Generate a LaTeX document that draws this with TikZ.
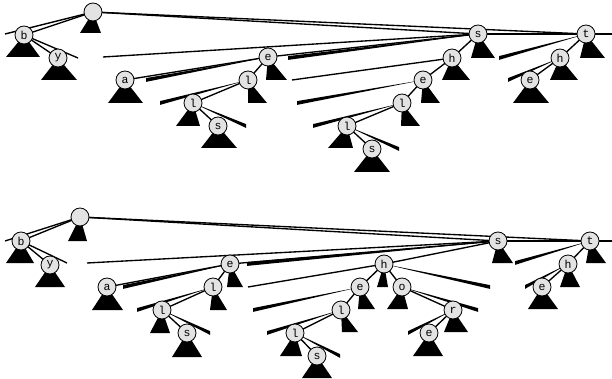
\documentclass[tikz,border=0pt]{standalone}
\usepackage{fontspec}
\setmonofont{Liberation Mono}
\pgfdeclarelayer{bg}
\pgfsetlayers{bg,main}
\newcommand\subtri[4]{\fill (#1.center) -- (#2,#4) -- (#3,#4) -- cycle;}
\newcommand\wedgeln[2]{\fill (#1.center) -- ([yshift=1.9pt]#2) -- ([yshift=-1.9pt]#2) -- cycle;}
\tikzset{
  nd/.style={circle,draw,line width=0.8pt,fill=black!11,minimum size=18pt,inner sep=0pt,
    font=\ttfamily\fontsize{11.5}{11.5}\selectfont},
  ln/.style={line width=1.35pt},
}
\begin{document}
\begin{tikzpicture}[x=1pt,y=-1pt]
\useasboundingbox (0,0) rectangle (612,379);
% ---------- top tree nodes ----------
\node[nd] (R1) at (93,12) {};
\node[nd] (b1) at (24,35) {b};
\node[nd] (y1) at (58,58) {y};
\node[nd] (a1) at (125,80) {a};
\node[nd] (e1) at (268,57) {e};
\node[nd] (l1) at (248,80) {l};
\node[nd] (l2) at (193,103) {l};
\node[nd] (s1) at (218,126) {s};
\node[nd] (S1) at (478,34) {s};
\node[nd] (h1) at (452,58) {h};
\node[nd] (e2) at (423,80) {e};
\node[nd] (l3) at (402,103) {l};
\node[nd] (l4) at (347,126) {l};
\node[nd] (s2) at (372,149) {s};
\node[nd] (t1) at (586,34) {t};
\node[nd] (h2) at (560,58) {h};
\node[nd] (e3) at (530,80) {e};
% free ends
\coordinate (c1) at (5,34);
\coordinate (c2) at (78,58);
\coordinate (c3) at (612,34);
\coordinate (c4) at (103,57);
\coordinate (c5) at (288,58);
\coordinate (c6) at (146,80);
\coordinate (c7) at (160,103);
\coordinate (c8) at (246,126);
\coordinate (c9) at (292,80);
\coordinate (c10) at (297,103);
\coordinate (c11) at (313,126);
\coordinate (c12) at (399,149);
\coordinate (c13) at (499,58);
\coordinate (c14) at (508,80);
% ---------- bottom tree nodes ----------
\node[nd] (R2) at (80,217) {};
\node[nd] (b2) at (21,241) {b};
\node[nd] (y2) at (50,265) {y};
\node[nd] (a2) at (107,287) {a};
\node[nd] (e4) at (230,264) {e};
\node[nd] (l5) at (213,287) {l};
\node[nd] (l6) at (162,310) {l};
\node[nd] (s3) at (187,333) {s};
\node[nd] (S2) at (498,241) {s};
\node[nd] (h3) at (384,264) {h};
\node[nd] (e5) at (360,287) {e};
\node[nd] (l7) at (341,310) {l};
\node[nd] (l8) at (295,333) {l};
\node[nd] (s4) at (317,356) {s};
\node[nd] (o1) at (402,287) {o};
\node[nd] (r1) at (453,310) {r};
\node[nd] (e6) at (429,333) {e};
\node[nd] (t2) at (590,241) {t};
\node[nd] (h4) at (568,264) {h};
\node[nd] (e7) at (542,287) {e};
\coordinate (d1) at (5,241);
\coordinate (d2) at (67,263);
\coordinate (d3) at (612,241);
\coordinate (d4) at (87,263);
\coordinate (d5) at (247,264);
\coordinate (d6) at (123,287);
\coordinate (d7) at (137,310);
\coordinate (d8) at (210,333);
\coordinate (d9) at (248,287);
\coordinate (d10) at (490,287);
\coordinate (d11) at (253,310);
\coordinate (d12) at (267,333);
\coordinate (d13) at (340,356);
\coordinate (d14) at (478,310);
\coordinate (d15) at (408,333);
\coordinate (d16) at (515,263);
\coordinate (d17) at (525,287);
\begin{pgfonlayer}{bg}
% ---- top: connectors
\draw[ln] (R1.center) -- (b1.center); \draw[ln] (R1.center) -- (c1);
\draw[ln] (b1.center) -- (y1.center); \draw[ln] (b1.center) -- (c2);
\draw[ln] (R1.center) -- (S1.center); \draw[ln] (R1.center) -- (t1.center);
\draw[ln] (S1.center) -- (t1.center); \draw[ln] (t1.center) -- (c3);
\draw[ln] (c4) -- (S1.center); \draw[ln] (e1.center) -- (S1.center);
\wedgeln{S1}{c5} \draw[ln] (S1.center) -- (h1.center);
\draw[ln] (e1.center) -- (a1.center); \wedgeln{e1}{c6} \draw[ln] (e1.center) -- (l1.center);
\draw[ln] (l1.center) -- (l2.center); \wedgeln{l1}{c7}
\draw[ln] (l2.center) -- (s1.center); \wedgeln{l2}{c8}
\draw[ln] (h1.center) -- (c9); \draw[ln] (h1.center) -- (e2.center); \wedgeln{e2}{c10}
\draw[ln] (e2.center) -- (l3.center); \wedgeln{l3}{c11}
\draw[ln] (l3.center) -- (l4.center); \wedgeln{l4}{c12}
\draw[ln] (l4.center) -- (s2.center);
\draw[ln] (t1.center) -- (h2.center); \wedgeln{t1}{c13}
\draw[ln] (h2.center) -- (e3.center); \wedgeln{h2}{c14}
% ---- top: subtrees
\subtri{R1}{80}{101}{33}
\subtri{b1}{6}{40}{57}
\subtri{y1}{41}{77}{80}
\subtri{a1}{108}{143}{103}
\subtri{e1}{266}{287}{80}
\subtri{l1}{248}{267}{103}
\subtri{l2}{176}{200}{126}
\subtri{s1}{201}{237}{148}
\subtri{S1}{471}{495}{58}
\subtri{h1}{442}{470}{80}
\subtri{e2}{421}{440}{103}
\subtri{l3}{401}{420}{126}
\subtri{l4}{328}{353}{148}
\subtri{s2}{354}{390}{172}
\subtri{t1}{580}{605}{58}
\subtri{h2}{550}{578}{80}
\subtri{e3}{513}{549}{103}
% ---- bottom: connectors
\draw[ln] (R2.center) -- (b2.center); \draw[ln] (R2.center) -- (d1);
\draw[ln] (b2.center) -- (y2.center); \draw[ln] (b2.center) -- (d2);
\draw[ln] (R2.center) -- (S2.center); \draw[ln] (R2.center) -- (t2.center);
\draw[ln] (S2.center) -- (t2.center); \draw[ln] (t2.center) -- (d3);
\draw[ln] (d4) -- (S2.center); \draw[ln] (e4.center) -- (S2.center);
\wedgeln{S2}{d5} \draw[ln] (S2.center) -- (h3.center);
\draw[ln] (e4.center) -- (a2.center); \wedgeln{e4}{d6} \draw[ln] (e4.center) -- (l5.center);
\draw[ln] (l5.center) -- (l6.center); \wedgeln{l5}{d7}
\draw[ln] (l6.center) -- (s3.center); \wedgeln{l6}{d8}
\draw[ln] (h3.center) -- (d9); \draw[ln] (h3.center) -- (e5.center);
\draw[ln] (h3.center) -- (o1.center); \wedgeln{h3}{d10}
\draw[ln] (e5.center) -- (l7.center); \wedgeln{e5}{d11}
\draw[ln] (l7.center) -- (l8.center); \wedgeln{l7}{d12}
\draw[ln] (l8.center) -- (s4.center); \wedgeln{l8}{d13}
\draw[ln] (o1.center) -- (r1.center); \wedgeln{o1}{d14}
\draw[ln] (r1.center) -- (e6.center); \wedgeln{r1}{d15}
\draw[ln] (t2.center) -- (h4.center); \wedgeln{t2}{d16}
\draw[ln] (h4.center) -- (e7.center); \wedgeln{h4}{d17}
% ---- bottom: subtrees
\subtri{R2}{68}{87}{241}
\subtri{b2}{6}{34}{263}
\subtri{y2}{35}{65}{287}
\subtri{a2}{92}{123}{310}
\subtri{e4}{227}{243}{287}
\subtri{l5}{210}{227}{310}
\subtri{l6}{150}{170}{333}
\subtri{s3}{172}{202}{357}
\subtri{S2}{492}{513}{263}
\subtri{h3}{377}{388}{287}
\subtri{e5}{358}{375}{309}
\subtri{l7}{342}{358}{332}
\subtri{l8}{280}{302}{356}
\subtri{s4}{302}{332}{378}
\subtri{o1}{387}{408}{309}
\subtri{r1}{444}{468}{332}
\subtri{e6}{413}{443}{356}
\subtri{t2}{586}{606}{263}
\subtri{h4}{560}{580}{287}
\subtri{e7}{528}{558}{309}
\end{pgfonlayer}
\end{tikzpicture}
\end{document}
